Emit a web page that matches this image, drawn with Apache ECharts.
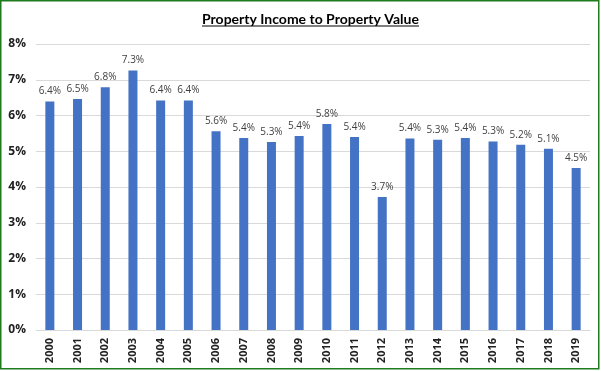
<!DOCTYPE html>
<html><head><meta charset="utf-8">
<script src="https://cdn.jsdelivr.net/npm/echarts@6/dist/echarts.min.js"></script>
<style>html,body{margin:0;padding:0;background:#fff}#c{width:601px;height:371px}</style>
</head><body><div id="c"></div>
<script>
const categories = ['2000','2001','2002','2003','2004','2005','2006','2007','2008','2009','2010','2011','2012','2013','2014','2015','2016','2017','2018','2019'];
const values = [6.39,6.46,6.79,7.26,6.42,6.42,5.56,5.37,5.26,5.43,5.76,5.40,3.72,5.36,5.32,5.37,5.27,5.18,5.07,4.53];
const yTicks = [0,1,2,3,4,5,6,7,8];
const titleText = 'Property Income to Property Value';

const titleFont = 'bold 14px Lato, sans-serif';
const cv = document.createElement('canvas').getContext('2d');
cv.font = titleFont;
const tw = cv.measureText(titleText).width;
const cx = 310.5, ty = 12;

const chart = echarts.init(document.getElementById('c'), null, {renderer:'canvas'});
chart.setOption({
  animation:false,
  backgroundColor:'#fff',
  grid:{left:36,right:11,top:44,bottom:41},
  graphic:[
    {type:'rect',shape:{x:0.75,y:0.75,width:598,height:368},style:{fill:'none',stroke:'#1e7b1e',lineWidth:1.5},z:100},
    {type:'text',x:cx,y:ty,style:{text:titleText,fontSize:14,fontWeight:'bold',fontFamily:'Lato, sans-serif',fill:'#000',align:'center',verticalAlign:'top'}},
    {type:'line',shape:{x1:cx-tw/2,y1:ty+14,x2:cx+tw/2,y2:ty+14},style:{stroke:'#000',lineWidth:1.2}}
  ],
  xAxis:{type:'category',data:categories,
    axisLine:{lineStyle:{color:'#d9d9d9'}},axisTick:{show:false},
    axisLabel:{rotate:90,color:'#222',fontWeight:'bold',fontSize:11,fontFamily:'"Open Sans", sans-serif',margin:8}},
  yAxis:{type:'value',min:yTicks[0],max:yTicks[yTicks.length-1],interval:1,
    axisLine:{show:false},axisTick:{show:false},
    splitLine:{lineStyle:{color:'#d9d9d9'}},
    axisLabel:{formatter:v=>v+'%',color:'#222',fontSize:12,fontWeight:'bold',fontFamily:'"Open Sans", sans-serif',margin:10}},
  series:[{type:'bar',data:values,barWidth:9,itemStyle:{color:'#4472c4'},
    label:{show:true,position:'top',distance:5,color:'#404040',fontSize:10,fontFamily:'"Open Sans", sans-serif',formatter:p=>p.value.toFixed(1)+'%'}}]
});
</script></body></html>
